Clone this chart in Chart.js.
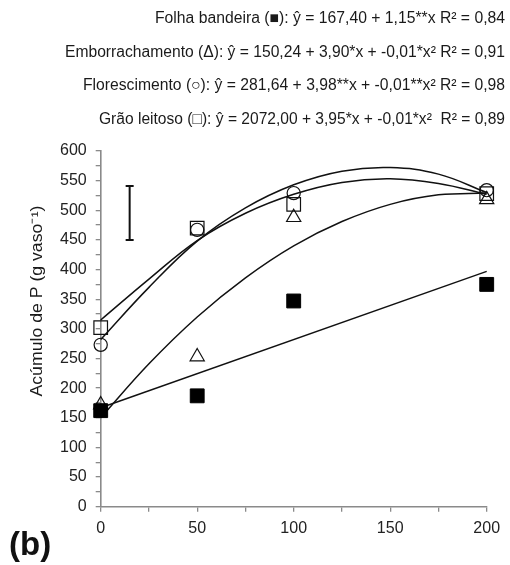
<!DOCTYPE html>
<html>
<head>
<meta charset="utf-8">
<script src="https://cdn.jsdelivr.net/npm/chart.js@4"></script>
<style>
html,body{margin:0;padding:0;background:#fff;}
#wrap{width:510px;height:565px;position:relative;}
</style>
</head>
<body>
<div id="wrap"><canvas id="c" width="510" height="565"></canvas></div>
<script>
// ---- data ----
const doses = [0, 50, 100, 200];
const folhaBandeira = [162, 187, 347, 375];
const emborrachamento = [172, 253, 488, 518];
const florescimento = [273, 467, 529, 534];
const graoLeitoso = [302, 470, 510, 528];

const curveX = [0, 25, 50, 75, 100, 125, 150, 175, 200];
const curveEmborrachamento = [150, 241, 320, 386, 440, 481, 510, 526, 529];
const curveFlorescimento = [282, 370, 448, 504, 543, 566, 572, 561, 530];
const curveGraoLeitoso = [315, 384, 449, 495, 527, 547, 553, 545, 527];
const lineX = [0, 200];
const lineFolhaBandeira = [167, 397];

const errorBar = [15, 450, 541]; // x, low, high

const equations = [
  "Folha bandeira (\u25A0): \u0177 = 167,40 + 1,15**x R\u00B2 = 0,84",
  "Emborrachamento (\u0394): \u0177 = 150,24 + 3,90*x + -0,01*x\u00B2 R\u00B2 = 0,91",
  "Florescimento (\u25CB): \u0177 = 281,64 + 3,98**x + -0,01**x\u00B2 R\u00B2 = 0,98",
  "Gr\u00E3o leitoso (\u25A1): \u0177 = 2072,00 + 3,95*x + -0,01*x\u00B2  R\u00B2 = 0,89"
];
const yTitle = "Ac\u00FAmulo de P (g vaso\u207B\u00B9)";
const panelLabel = "(b)";
const xTicks = [0, 50, 100, 150, 200];

// ---- layout of the free texts ----
const eqLeft = [155, 65, 83, 99];
const eqRight = 505;
const eqY = [19, 52.5, 86, 120];

// ---- build ----
const pts = (xs, ys) => xs.map((x, i) => ({x: x, y: ys[i]}));
const FONT = "'Liberation Sans', Arial, sans-serif";

const curveDs = (data) => ({
  type: 'line', data: data, showLine: true, borderColor: '#111', borderWidth: 1.5,
  pointRadius: 0, tension: 0.4, fill: false, order: 10, clip: false
});

function fitText(ctx, text, x0, x1, y) {
  const w = ctx.measureText(text).width;
  const s = (x1 - x0) / w;
  ctx.save();
  ctx.translate(x0, y);
  ctx.scale(s, 1);
  ctx.textAlign = 'left';
  ctx.fillText(text, 0, 0);
  ctx.restore();
}

const extras = {
  id: 'extras',
  afterDatasetsDraw(chart) {
    const ctx = chart.ctx, xs = chart.scales.x, ys = chart.scales.y;
    const ex = xs.getPixelForValue(errorBar[0]);
    const y1 = ys.getPixelForValue(errorBar[1]);
    const y2 = ys.getPixelForValue(errorBar[2]);
    ctx.save();
    ctx.strokeStyle = '#111'; ctx.lineWidth = 2;
    ctx.beginPath();
    ctx.moveTo(ex, y1); ctx.lineTo(ex, y2);
    ctx.moveTo(ex - 4, y1); ctx.lineTo(ex + 4, y1);
    ctx.moveTo(ex - 4, y2); ctx.lineTo(ex + 4, y2);
    ctx.stroke();
    ctx.restore();
  },
  afterDraw(chart) {
    const ctx = chart.ctx;
    ctx.save();
    ctx.fillStyle = '#1a1a1a';
    ctx.font = "16px " + FONT;
    ctx.textBaseline = 'middle';
    equations.forEach((t, i) => fitText(ctx, t, eqLeft[i], eqRight, eqY[i]));
    // y title
    ctx.save();
    ctx.translate(37, 301);
    ctx.rotate(-Math.PI / 2);
    ctx.font = "16.5px " + FONT;
    fitText(ctx, yTitle, -95.5, 95.5, 0);
    ctx.restore();
    // panel label
    ctx.textAlign = 'left';
    ctx.textBaseline = 'alphabetic';
    ctx.font = "bold 33px " + FONT;
    ctx.fillStyle = '#111';
    ctx.fillText(panelLabel, 9, 555);
    ctx.restore();
  }
};

new Chart(document.getElementById('c'), {
  type: 'scatter',
  data: {
    datasets: [
      { label: 'Folha bandeira', data: pts(doses, folhaBandeira), pointStyle: 'rect', pointRadius: 9.8,
        backgroundColor: '#000', borderColor: '#000', borderWidth: 1, order: 1, clip: false },
      { label: 'Florescimento', data: pts(doses, florescimento), pointStyle: 'circle', pointRadius: 6.6,
        backgroundColor: 'rgba(0,0,0,0)', borderColor: '#111', borderWidth: 1.2, order: 2, clip: false },
      { label: 'Gr\u00E3o leitoso', data: pts(doses, graoLeitoso), pointStyle: 'rect', pointRadius: 9.6,
        backgroundColor: 'rgba(0,0,0,0)', borderColor: '#111', borderWidth: 1.2, order: 3, clip: false },
      { label: 'Emborrachamento', data: pts(doses, emborrachamento), pointStyle: 'triangle', pointRadius: 8.2,
        backgroundColor: 'rgba(0,0,0,0)', borderColor: '#111', borderWidth: 1.2, order: 4, clip: false },
      curveDs(pts(curveX, curveEmborrachamento)),
      curveDs(pts(curveX, curveFlorescimento)),
      curveDs(pts(curveX, curveGraoLeitoso)),
      Object.assign(curveDs(pts(lineX, lineFolhaBandeira)), {tension: 0})
    ]
  },
  options: {
    responsive: false,
    animation: false,
    layout: { padding: { top: 151, right: 23.3, left: 0, bottom: 0 } },
    plugins: { legend: { display: false }, tooltip: { enabled: false } },
    scales: {
      x: {
        type: 'linear', min: 0, max: 200,
        afterFit: (s) => { s.height = 58.3; },
        afterBuildTicks: (s) => { s.ticks = [0,25,50,75,100,125,150,175,200].map(v => ({value: v})); },
        ticks: { color: '#222', font: { size: 16, family: FONT }, padding: 7,
          callback: (v) => xTicks.includes(v) ? String(v) : '' , maxRotation: 0, autoSkip: false },
        grid: { display: true, drawOnChartArea: false, drawTicks: true, tickLength: 5, color: '#8a8a8a', lineWidth: 1.3 },
        border: { display: true, color: '#8a8a8a', width: 1.6 }
      },
      y: {
        type: 'linear', min: 0, max: 600,
        afterFit: (s) => { s.width = 100.7; },
        ticks: { stepSize: 25, color: '#222', font: { size: 16, family: FONT }, padding: 9,
          callback: (v) => v % 50 === 0 ? String(v) : '', autoSkip: false },
        grid: { display: true, drawOnChartArea: false, drawTicks: true, tickLength: 5, color: '#8a8a8a', lineWidth: 1.3 },
        border: { display: true, color: '#8a8a8a', width: 1.6 }
      }
    }
  },
  plugins: [extras]
});
</script>
</body>
</html>
